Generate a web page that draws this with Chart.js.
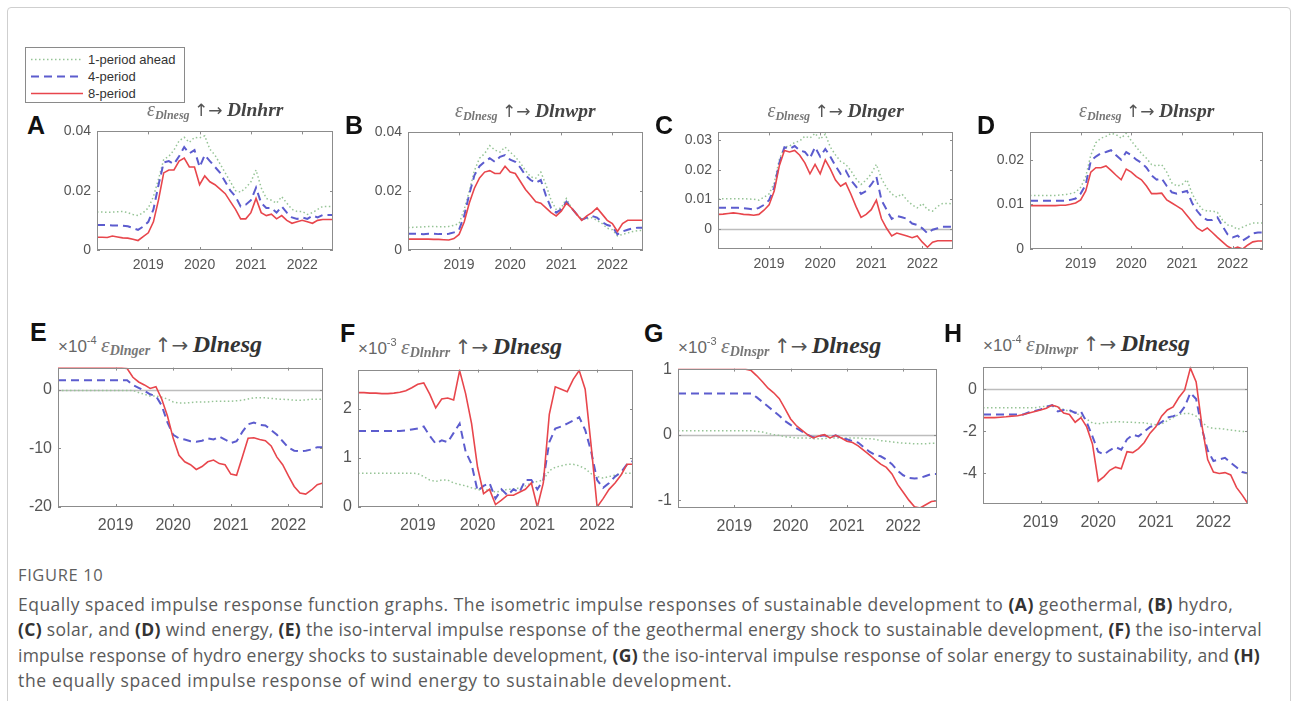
<!DOCTYPE html>
<html lang="en">
<head>
<meta charset="UTF-8">
<title>Impulse response graphs</title>
<script src="https://cdn.jsdelivr.net/npm/chart.js@4.4.0/dist/chart.umd.min.js"></script>
<style>
    body { margin: 0; background: #fff; width: 1293px; height: 701px; overflow: hidden; position: relative; font-family: "Liberation Sans", Arial, sans-serif; }
    #frame { position: absolute; left: 7px; top: 7px; width: 1282px; height: 760px; border: 1px solid #cfcfcf; border-radius: 4px; }
    .panel { position: absolute; }
    .letter { position: absolute; font: bold 25px "Liberation Sans", Arial, sans-serif; color: #111; line-height: 25px; }
    .ttl { position: absolute; white-space: nowrap; line-height: 22px; color: #555; }
    .ttl .ep { font: italic 20px "Liberation Serif", serif; color: #777; }
    .ttl .sb { font: italic bold 12px "Liberation Serif", serif; color: #777; position: relative; top: 3px; }
    .ttl .ar { font: 17px "DejaVu Sans", sans-serif; color: #555; }
    .ttl .rv { font: italic bold 19.5px "Liberation Serif", serif; color: #444; }
    .ttl .mul { font: 17px "Liberation Sans", Arial, sans-serif; color: #666; }
    .ttl .sup { font: 11px "Liberation Sans", Arial, sans-serif; color: #666; position: relative; top: -8px; }
    .big .ep { font-size: 22px; }
    .big .sb { font-size: 14px; }
    .big .ar { font-size: 20px; }
    .big .rv { font-size: 24px; color: #333; }
    #legend { position: absolute; left: 25px; top: 47px; width: 158px; height: 54px; border: 1px solid #8a8a8a; background: #fff; }
    #legend canvas { position: absolute; left: 0; top: 0; }
    #legend div { position: absolute; left: 62px; font: 13px "Liberation Sans", Arial, sans-serif; color: #333; line-height: 14px; }
    .cap { position: absolute; left: 18px; white-space: nowrap; font-family: "Open Sans", sans-serif; color: #5a5a5a; font-size: 17.5px; line-height: 20px; }
    .cap b { color: #333; }
    #fig { font-size: 16.5px; color: #5f5f5f; }
</style>
</head>
<body>
<div id="frame"></div>

<div id="legend">
    <canvas id="legendLines" width="60" height="54"></canvas>
    <div style="top: 5px;">1-period ahead</div>
    <div style="top: 22px;">4-period</div>
    <div style="top: 39px;">8-period</div>
</div>

<div class="cap" id="fig" data-w="85" style="top: 565px;">FIGURE 10</div>
<div class="cap" data-w="1215" style="top: 594px;">Equally spaced impulse response function graphs. The isometric impulse responses of sustainable development to <b>(A)</b> geothermal, <b>(B)</b> hydro,</div>
<div class="cap" data-w="1244" style="top: 619px;"><b>(C)</b> solar, and <b>(D)</b> wind energy, <b>(E)</b> the iso-interval impulse response of the geothermal energy shock to sustainable development, <b>(F)</b> the iso-interval</div>
<div class="cap" data-w="1242" style="top: 645px;">impulse response of hydro energy shocks to sustainable development, <b>(G)</b> the iso-interval impulse response of solar energy to sustainability, and <b>(H)</b></div>
<div class="cap" data-w="714" style="top: 670px;">the equally spaced impulse response of wind energy to sustainable development.</div>

<script>
// shared time grid (years, 0.1 step)
const years = [2018.0, 2018.1, 2018.2, 2018.3, 2018.4, 2018.5, 2018.6, 2018.7, 2018.8, 2018.9,
               2019.0, 2019.1, 2019.2, 2019.3, 2019.4, 2019.5, 2019.6, 2019.7, 2019.8, 2019.9,
               2020.0, 2020.1, 2020.2, 2020.3, 2020.4, 2020.5, 2020.6, 2020.7, 2020.8, 2020.9,
               2021.0, 2021.1, 2021.2, 2021.3, 2021.4, 2021.5, 2021.6, 2021.7, 2021.8, 2021.9,
               2022.0, 2022.1, 2022.2, 2022.3, 2022.4, 2022.5, 2022.6];
const yearTicks = [2019, 2020, 2021, 2022];
const seriesNames = ['1-period ahead', '4-period', '8-period'];

// (A) Dlnesg -> Dlnhrr
const aGreen = [0.0128,0.0128,0.0127,0.0128,0.0129,0.0130,0.0126,0.0120,0.0116,0.0126,
                0.0142,0.0180,0.0240,0.0305,0.0316,0.0337,0.0368,0.0380,0.0363,0.0380,
                0.0378,0.0385,0.0340,0.0320,0.0290,0.0260,0.0230,0.0200,0.0195,0.0210,
                0.0230,0.0270,0.0210,0.0174,0.0168,0.0158,0.0180,0.0158,0.0137,0.0130,
                0.0130,0.0120,0.0126,0.0137,0.0147,0.0147,0.0147];
const aBlue  = [0.0084,0.0084,0.0084,0.0083,0.0083,0.0082,0.0080,0.0074,0.0068,0.0079,
                0.0095,0.0137,0.0220,0.0295,0.0300,0.0290,0.0316,0.0347,0.0326,0.0337,
                0.0280,0.0320,0.0300,0.0280,0.0260,0.0230,0.0200,0.0180,0.0147,0.0153,
                0.0168,0.0210,0.0158,0.0142,0.0142,0.0126,0.0147,0.0126,0.0110,0.0105,
                0.0110,0.0105,0.0116,0.0110,0.0118,0.0118,0.0118];
const aRed   = [0.0043,0.0043,0.0042,0.0047,0.0044,0.0041,0.0040,0.0036,0.0032,0.0045,
                0.0058,0.0095,0.0170,0.0260,0.0270,0.0270,0.0300,0.0310,0.0280,0.0280,
                0.0220,0.0250,0.0230,0.0220,0.0205,0.0190,0.0163,0.0137,0.0105,0.0105,
                0.0126,0.0174,0.0126,0.0116,0.0121,0.0105,0.0116,0.0100,0.0090,0.0095,
                0.0100,0.0095,0.0090,0.0100,0.0103,0.0103,0.0103];

// (B) Dlnesg -> Dlnwpr
const bGreen = [0.0076,0.0077,0.0078,0.0079,0.0080,0.0080,0.0079,0.0079,0.0080,0.0084,
                0.0090,0.0138,0.0200,0.0270,0.0312,0.0328,0.0355,0.0340,0.0333,0.0350,
                0.0333,0.0317,0.0296,0.0270,0.0249,0.0244,0.0265,0.0222,0.0170,0.0138,
                0.0143,0.0175,0.0143,0.0122,0.0106,0.0106,0.0110,0.0101,0.0090,0.0074,
                0.0069,0.0048,0.0053,0.0058,0.0063,0.0066,0.0066];
const bBlue  = [0.0055,0.0055,0.0055,0.0054,0.0055,0.0055,0.0054,0.0054,0.0055,0.0060,
                0.0069,0.0116,0.0190,0.0254,0.0285,0.0300,0.0312,0.0300,0.0317,0.0323,
                0.0307,0.0300,0.0280,0.0254,0.0238,0.0228,0.0238,0.0185,0.0143,0.0127,
                0.0138,0.0164,0.0143,0.0122,0.0103,0.0110,0.0116,0.0110,0.0095,0.0085,
                0.0080,0.0053,0.0063,0.0069,0.0074,0.0076,0.0076];
const bRed   = [0.0037,0.0037,0.0037,0.0037,0.0037,0.0036,0.0036,0.0035,0.0034,0.0039,
                0.0053,0.0095,0.0160,0.0210,0.0245,0.0265,0.0270,0.0260,0.0260,0.0285,
                0.0265,0.0260,0.0233,0.0206,0.0185,0.0164,0.0159,0.0143,0.0127,0.0116,
                0.0132,0.0159,0.0143,0.0122,0.0101,0.0116,0.0127,0.0143,0.0122,0.0101,
                0.0090,0.0063,0.0090,0.0101,0.0101,0.0101,0.0101];

// (C) Dlnesg -> Dlnger
const cGreen = [0.0102,0.0102,0.0102,0.0102,0.0102,0.0102,0.0101,0.0100,0.0097,0.0107,
                0.0118,0.0155,0.0234,0.0276,0.0280,0.0292,0.0297,0.0313,0.0307,0.0323,
                0.0303,0.0320,0.0276,0.0250,0.0228,0.0218,0.0197,0.0170,0.0150,0.0165,
                0.0186,0.0218,0.0170,0.0139,0.0118,0.0107,0.0118,0.0097,0.0081,0.0071,
                0.0086,0.0065,0.0060,0.0076,0.0086,0.0086,0.0084];
const cBlue  = [0.0071,0.0071,0.0071,0.0071,0.0071,0.0070,0.0068,0.0065,0.0071,0.0081,
                0.0097,0.0139,0.0223,0.0276,0.0270,0.0280,0.0265,0.0260,0.0239,0.0276,
                0.0244,0.0270,0.0244,0.0213,0.0186,0.0197,0.0165,0.0144,0.0118,0.0128,
                0.0150,0.0176,0.0097,0.0065,0.0034,0.0044,0.0039,0.0034,0.0018,0.0013,
                0.0002,-0.0015,-0.0003,0.0002,0.0007,0.0007,0.0007];
const cRed   = [0.0049,0.0050,0.0052,0.0054,0.0052,0.0049,0.0048,0.0046,0.0049,0.0063,
                0.0081,0.0128,0.0213,0.0265,0.0260,0.0265,0.0249,0.0223,0.0186,0.0218,
                0.0186,0.0233,0.0202,0.0165,0.0144,0.0155,0.0118,0.0076,0.0039,0.0049,
                0.0065,0.0097,0.0034,0.0002,-0.0024,-0.0014,-0.0019,-0.0024,-0.0030,-0.0024,
                -0.0045,-0.0062,-0.0045,-0.0040,-0.0040,-0.0040,-0.0040];

// (D) Dlnesg -> Dlnspr
const dGreen = [0.0120,0.0120,0.0120,0.0120,0.0120,0.0120,0.0121,0.0122,0.0124,0.0127,
                0.0138,0.0162,0.0210,0.0238,0.0248,0.0252,0.0259,0.0256,0.0248,0.0259,
                0.0242,0.0228,0.0214,0.0203,0.0189,0.0186,0.0189,0.0172,0.0148,0.0141,
                0.0144,0.0155,0.0124,0.0103,0.0089,0.0085,0.0085,0.0082,0.0065,0.0054,
                0.0051,0.0044,0.0049,0.0054,0.0058,0.0058,0.0058];
const dBlue  = [0.0108,0.0108,0.0108,0.0108,0.0108,0.0108,0.0108,0.0108,0.0110,0.0113,
                0.0124,0.0144,0.0197,0.0207,0.0214,0.0217,0.0221,0.0210,0.0200,0.0217,
                0.0210,0.0200,0.0193,0.0182,0.0165,0.0155,0.0158,0.0141,0.0127,0.0124,
                0.0127,0.0130,0.0103,0.0085,0.0071,0.0065,0.0065,0.0071,0.0051,0.0033,
                0.0026,0.0030,0.0019,0.0026,0.0035,0.0037,0.0037];
const dRed   = [0.0097,0.0097,0.0097,0.0097,0.0097,0.0097,0.0098,0.0098,0.0100,0.0103,
                0.0110,0.0130,0.0172,0.0182,0.0182,0.0186,0.0176,0.0165,0.0155,0.0179,
                0.0172,0.0162,0.0155,0.0141,0.0124,0.0124,0.0125,0.0110,0.0103,0.0096,
                0.0089,0.0075,0.0061,0.0047,0.0040,0.0047,0.0037,0.0026,0.0016,0.0006,
                0.0000,0.0004,0.0000,0.0009,0.0016,0.0018,0.0018];

// (E) Dlnger -> Dlnesg, x1e-4
const eGreen = [-0.15,-0.15,-0.15,-0.15,-0.15,-0.15,-0.15,-0.15,-0.15,-0.15,
                -0.15,-0.15,-0.15,-0.15,-0.5,-0.8,-1.1,-1.1,-1.3,-1.6,
                -2.1,-2.3,-2.3,-2.2,-2.1,-2.1,-2.1,-2.0,-2.0,-2.0,
                -2.0,-1.9,-1.8,-1.6,-1.4,-1.4,-1.4,-1.5,-1.6,-1.65,
                -1.7,-1.8,-1.8,-1.75,-1.65,-1.65,-1.65];
const eBlue  = [1.6,1.6,1.6,1.6,1.6,1.6,1.6,1.6,1.6,1.6,
                1.6,1.6,1.6,0.8,0.3,-0.2,-0.8,-1.1,-2.7,-5.6,
                -7.7,-8.3,-8.5,-8.8,-8.9,-8.7,-8.3,-8.5,-8.0,-8.5,
                -9.1,-8.8,-7.2,-5.9,-5.6,-6.0,-6.1,-6.9,-7.7,-8.8,
                -9.9,-10.4,-10.5,-10.4,-10.2,-9.8,-9.8];
const eRed   = [3.7,3.7,3.7,3.7,3.7,3.7,3.7,3.7,3.7,3.7,
                3.7,3.7,3.6,2.1,1.3,0.8,0.2,0.5,-1.6,-4.5,
                -8.3,-11.2,-12.3,-12.8,-13.6,-13.1,-12.3,-12.0,-12.6,-12.8,
                -14.4,-14.6,-11.5,-8.3,-8.2,-8.5,-8.7,-9.6,-11.5,-12.8,
                -14.7,-16.5,-17.6,-17.8,-17.1,-16.2,-15.9];

// (F) Dlnhrr -> Dlnesg, x1e-3
const fGreen = [0.69,0.69,0.69,0.69,0.69,0.69,0.69,0.69,0.69,0.69,
                0.68,0.62,0.55,0.52,0.55,0.55,0.49,0.46,0.43,0.39,
                0.36,0.33,0.36,0.30,0.33,0.36,0.36,0.39,0.43,0.49,
                0.52,0.55,0.74,0.81,0.84,0.87,0.87,0.84,0.78,0.68,
                0.62,0.59,0.62,0.65,0.68,0.69,0.69];
const fBlue  = [1.55,1.55,1.55,1.55,1.55,1.55,1.55,1.55,1.56,1.58,
                1.60,1.64,1.45,1.29,1.36,1.32,1.51,1.70,1.13,0.87,
                0.33,0.43,0.49,0.17,0.36,0.24,0.36,0.30,0.55,0.55,
                0.36,0.55,1.32,1.60,1.64,1.70,1.76,1.83,1.57,1.13,
                0.55,0.39,0.49,0.62,0.71,0.87,0.94];
const fRed   = [2.33,2.33,2.32,2.32,2.31,2.31,2.32,2.34,2.37,2.43,
                2.50,2.53,2.30,2.02,2.20,2.22,2.18,2.78,2.31,1.70,
                0.81,0.27,0.36,0.05,0.14,0.24,0.24,0.30,0.36,0.49,
                0.00,0.49,1.89,2.45,2.40,2.35,2.60,2.78,2.40,1.25,
                0.00,0.17,0.36,0.49,0.65,0.87,0.87];

// (G) Dlnspr -> Dlnesg, x1e-3
const gGreen = [0.06,0.06,0.06,0.06,0.06,0.06,0.06,0.06,0.06,0.06,
                0.06,0.06,0.06,0.06,0.05,0.04,0.02,0.00,-0.01,-0.03,
                -0.04,-0.05,-0.05,-0.05,-0.06,-0.06,-0.06,-0.05,-0.05,-0.05,
                -0.05,-0.05,-0.05,-0.06,-0.06,-0.07,-0.09,-0.10,-0.11,-0.12,
                -0.13,-0.13,-0.14,-0.14,-0.14,-0.13,-0.13];
const gBlue  = [0.63,0.63,0.63,0.63,0.63,0.63,0.63,0.63,0.63,0.63,
                0.63,0.63,0.63,0.63,0.57,0.50,0.43,0.36,0.29,0.21,
                0.15,0.10,0.05,0.00,-0.04,-0.02,-0.01,-0.04,-0.01,-0.05,
                -0.07,-0.10,-0.12,-0.19,-0.26,-0.31,-0.33,-0.38,-0.45,-0.55,
                -0.62,-0.66,-0.67,-0.66,-0.63,-0.60,-0.60];
const gRed   = [1.00,1.00,1.00,1.00,1.00,1.00,1.00,1.00,1.00,1.00,
                1.00,1.00,1.00,0.98,0.90,0.81,0.71,0.64,0.55,0.40,
                0.24,0.14,0.07,0.00,-0.05,-0.02,0.00,-0.05,-0.01,-0.05,
                -0.10,-0.12,-0.17,-0.24,-0.31,-0.38,-0.45,-0.50,-0.60,-0.76,
                -0.88,-1.00,-1.10,-1.12,-1.07,-1.02,-1.01];

// (H) Dlnwpr -> Dlnesg, x1e-4
const hGreen = [-0.88,-0.88,-0.88,-0.88,-0.88,-0.88,-0.88,-0.88,-0.88,-0.88,
                -0.84,-0.81,-0.79,-0.84,-0.96,-1.06,-1.10,-1.28,-1.43,-1.60,
                -1.65,-1.60,-1.57,-1.55,-1.55,-1.57,-1.57,-1.60,-1.60,-1.65,
                -1.69,-1.65,-1.50,-1.35,-1.20,-1.16,-1.16,-1.28,-1.57,-1.79,
                -1.87,-1.87,-1.90,-1.94,-1.97,-2.01,-2.01];
const hBlue  = [-1.20,-1.20,-1.20,-1.20,-1.20,-1.20,-1.20,-1.20,-1.10,-1.03,
                -0.96,-0.84,-0.76,-1.06,-0.99,-0.99,-1.13,-1.06,-1.57,-2.24,
                -2.97,-3.10,-2.90,-2.75,-2.87,-2.38,-2.16,-2.24,-2.01,-1.79,
                -1.72,-1.57,-1.35,-1.28,-1.20,-0.84,-0.18,-0.47,-1.87,-2.90,
                -3.41,-3.34,-3.26,-3.49,-3.71,-3.93,-4.00];
const hRed   = [-1.35,-1.35,-1.35,-1.33,-1.31,-1.28,-1.26,-1.20,-1.13,-1.06,
                -0.99,-0.91,-0.76,-0.84,-1.13,-1.20,-1.57,-1.35,-1.79,-2.60,
                -4.37,-4.15,-3.85,-3.70,-3.78,-2.97,-3.01,-2.82,-2.53,-2.09,
                -1.79,-1.28,-0.99,-0.84,-0.40,-0.05,1.00,0.34,-1.72,-3.34,
                -3.93,-4.00,-3.96,-4.07,-4.66,-5.03,-5.44];

// line styles for the three horizons
const styles = [
    { color: 'rgb(150,196,150)', width: 1.5, dash: [1.5, 2.5] },
    { color: 'rgb(92,92,206)',   width: 2,   dash: [8, 5] },
    { color: 'rgb(232,70,76)',   width: 1.6, dash: [] }
];

// panel layout: plot area box [left, top, right, bottom]
const panels = [
    { letter: 'A', lx: 27,  ly: 113, box: [97, 123, 333, 250],   ymin: 0,       ymax: 0.04,   yticks: [0, 0.02, 0.04],        data: [aGreen, aBlue, aRed], shock: 'Dlnesg', resp: 'Dlnhrr', top: true },
    { letter: 'B', lx: 345, ly: 113, box: [408, 124, 643, 250],  ymin: 0,       ymax: 0.04,   yticks: [0, 0.02, 0.04],        data: [bGreen, bBlue, bRed], shock: 'Dlnesg', resp: 'Dlnwpr', top: true },
    { letter: 'C', lx: 655, ly: 113, box: [718, 124, 953, 249],  ymin: -0.0068, ymax: 0.0326, yticks: [0, 0.01, 0.02, 0.03], data: [cGreen, cBlue, cRed], shock: 'Dlnesg', resp: 'Dlnger', top: true, zero: true },
    { letter: 'D', lx: 977, ly: 113, box: [1030, 124, 1263, 249], ymin: 0,      ymax: 0.0261, yticks: [0, 0.01, 0.02],        data: [dGreen, dBlue, dRed], shock: 'Dlnesg', resp: 'Dlnspr', top: true },
    { letter: 'E', lx: 30,  ly: 320, box: [58, 358, 323, 507],   ymin: -20,     ymax: 3.75,   yticks: [-20, -10, 0],          data: [eGreen, eBlue, eRed], shock: 'Dlnger', resp: 'Dlnesg', exp: '-4', zero: true },
    { letter: 'F', lx: 340, ly: 321, box: [358, 360, 633, 507],  ymin: 0,       ymax: 2.8,    yticks: [0, 1, 2],              data: [fGreen, fBlue, fRed], shock: 'Dlnhrr', resp: 'Dlnesg', exp: '-3' },
    { letter: 'G', lx: 644, ly: 321, box: [678, 359, 937, 508],  ymin: -1.12,   ymax: 1.01,   yticks: [-1, 0, 1],             data: [gGreen, gBlue, gRed], shock: 'Dlnspr', resp: 'Dlnesg', exp: '-3', zero: true },
    { letter: 'H', lx: 944, ly: 321, box: [983, 357, 1248, 504], ymin: -5.45,   ymax: 1.07,   yticks: [-4, -2, 0],            data: [hGreen, hBlue, hRed], shock: 'Dlnwpr', resp: 'Dlnesg', exp: '-4', zero: true }
];

const PAD_L = 60, PAD_T = 6, PAD_R = 6, PAD_B = 34;

// box frame, inward tick marks and the zero reference line
const axesBox = {
    id: 'axesBox',
    beforeDatasetsDraw(chart, args, opts) {
        if (!opts.zero) return;
        const { ctx, chartArea: a, scales } = chart;
        const y = Math.round(scales.y.getPixelForValue(0)) + 0.5;
        ctx.save();
        ctx.strokeStyle = '#bdbdbd';
        ctx.lineWidth = 1.3;
        ctx.beginPath();
        ctx.moveTo(a.left, y);
        ctx.lineTo(a.right, y);
        ctx.stroke();
        ctx.restore();
    },
    afterDraw(chart) {
        const { ctx, chartArea: a, scales } = chart;
        ctx.save();
        ctx.strokeStyle = '#8c8c8c';
        ctx.lineWidth = 1;
        ctx.strokeRect(Math.round(a.left) + 0.5, Math.round(a.top) + 0.5,
                       Math.round(a.right - a.left) - 1, Math.round(a.bottom - a.top) - 1);
        ctx.beginPath();
        scales.x.ticks.forEach(t => {
            const x = Math.round(scales.x.getPixelForValue(t.value)) + 0.5;
            ctx.moveTo(x, a.bottom); ctx.lineTo(x, a.bottom - 3);
            ctx.moveTo(x, a.top);    ctx.lineTo(x, a.top + 3);
        });
        scales.y.ticks.forEach(t => {
            const y = Math.round(scales.y.getPixelForValue(t.value)) + 0.5;
            ctx.moveTo(a.left, y);  ctx.lineTo(a.left + 3, y);
            ctx.moveTo(a.right, y); ctx.lineTo(a.right - 3, y);
        });
        ctx.stroke();
        ctx.restore();
    }
};

function titleHtml(p) {
    const head = p.exp ? '<span class="mul">&times;10</span><span class="sup">' + p.exp + '</span> ' : '';
    return head + '<span class="ep">&epsilon;</span><span class="sb">' + p.shock + '</span> ' +
           '<span class="ar">&uarr;&rarr;</span> <span class="rv">' + p.resp + '</span>';
}

function makePanel(p) {
    const [l, t, r, b] = p.box;
    const w = r - l + PAD_L + PAD_R;
    const h = b - t + PAD_T + PAD_B;
    const fontSize = p.top ? 14 : 16;

    const letter = document.createElement('div');
    letter.className = 'letter';
    letter.textContent = p.letter;
    letter.style.left = p.lx + 'px';
    letter.style.top = p.ly + 'px';
    document.body.appendChild(letter);

    const title = document.createElement('div');
    title.className = 'ttl' + (p.top ? '' : ' big');
    title.innerHTML = titleHtml(p);
    document.body.appendChild(title);
    if (p.top) {
        title.style.left = ((l + r) / 2 - title.offsetWidth / 2) + 'px';
        title.style.top = (t - 25) + 'px';
    } else {
        title.style.left = l + 'px';
        title.style.top = (t - 27) + 'px';
    }

    const wrap = document.createElement('div');
    wrap.className = 'panel';
    wrap.style.left = (l - PAD_L) + 'px';
    wrap.style.top = (t - PAD_T) + 'px';
    const canvas = document.createElement('canvas');
    canvas.width = w;
    canvas.height = h;
    wrap.appendChild(canvas);
    document.body.appendChild(wrap);

    // red on top, then blue, then green
    const datasets = p.data.map((vals, i) => ({
        label: seriesNames[i],
        data: vals.map((v, k) => ({ x: years[k], y: v })),
        borderColor: styles[i].color,
        borderWidth: styles[i].width,
        borderDash: styles[i].dash,
        pointRadius: 0,
        tension: 0,
        fill: false,
        order: 2 - i
    }));

    const tickFont = { family: '"Liberation Sans", Arial, sans-serif', size: fontSize };

    new Chart(canvas.getContext('2d'), {
        type: 'line',
        data: { datasets },
        options: {
            responsive: false,
            animation: false,
            devicePixelRatio: 1,
            layout: { padding: { top: PAD_T, right: PAD_R, left: 0, bottom: 0 } },
            plugins: {
                legend: { display: false },
                tooltip: { enabled: false },
                axesBox: { zero: !!p.zero }
            },
            scales: {
                x: {
                    type: 'linear',
                    min: 2018,
                    max: 2022.6,
                    afterBuildTicks: s => { s.ticks = yearTicks.map(v => ({ value: v })); },
                    afterFit: s => { s.height = PAD_B; },
                    grid: { display: false, drawTicks: false },
                    border: { display: false },
                    ticks: {
                        autoSkip: false, maxRotation: 0, color: '#555', font: tickFont,
                        padding: p.top ? 7 : 9,
                        callback: v => String(v)
                    }
                },
                y: {
                    type: 'linear',
                    min: p.ymin,
                    max: p.ymax,
                    afterBuildTicks: s => { s.ticks = p.yticks.map(v => ({ value: v })); },
                    afterFit: s => { s.width = PAD_L; },
                    grid: { display: false, drawTicks: false },
                    border: { display: false },
                    ticks: {
                        color: '#555', font: tickFont, padding: 6,
                        callback: v => String(v)
                    }
                }
            }
        },
        plugins: [axesBox]
    });
}

panels.forEach(makePanel);

// legend line samples
(function () {
    const ctx = document.getElementById('legendLines').getContext('2d');
    [11, 28, 45].forEach((y, i) => {
        ctx.save();
        ctx.strokeStyle = styles[i].color;
        ctx.lineWidth = styles[i].width;
        ctx.setLineDash(styles[i].dash);
        ctx.beginPath();
        ctx.moveTo(5, y + 0.5);
        ctx.lineTo(57, y + 0.5);
        ctx.stroke();
        ctx.restore();
    });
})();

// stretch each caption line to its column width
document.querySelectorAll('.cap').forEach(el => {
    const target = +el.dataset.w;
    const n = el.textContent.length;
    const extra = (target - el.scrollWidth) / Math.max(n - 1, 1);
    el.style.letterSpacing = extra.toFixed(3) + 'px';
});
</script>
</body>
</html>
